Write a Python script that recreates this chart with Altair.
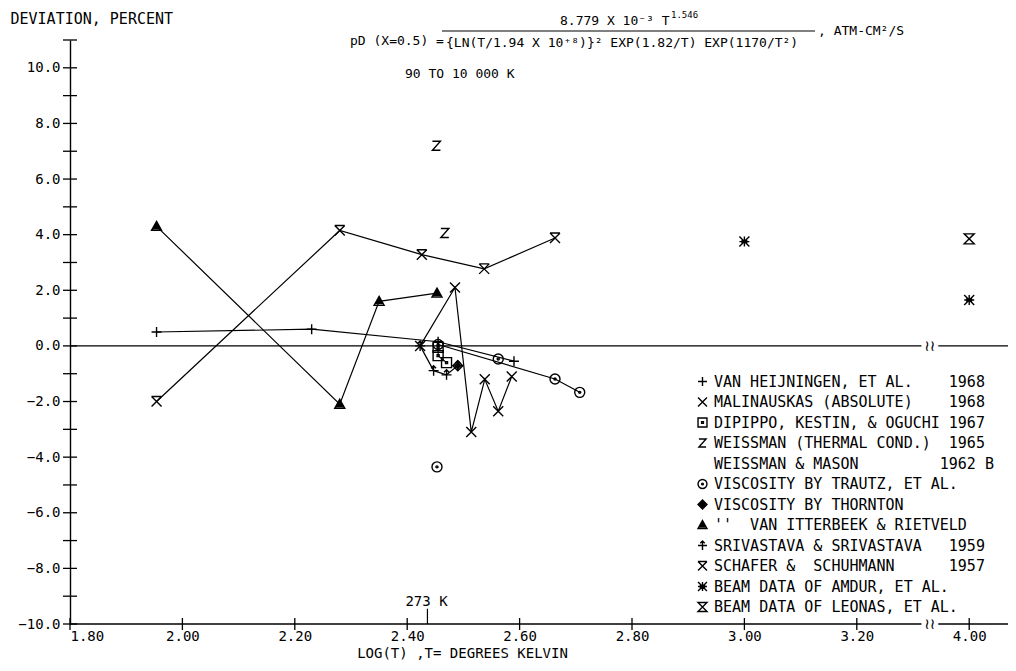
import altair as alt
import pandas as pd

FONT = "DejaVu Sans Mono"

# ---------------- data: x = log10(T), y = deviation in percent ----------------
VH_X = [1.954, 2.23, 2.455, 2.59]
VH_Y = [0.5, 0.6, 0.15, -0.55]
MAL_X = [2.423, 2.485, 2.514, 2.538, 2.562, 2.586]
MAL_Y = [0.0, 2.1, -3.1, -1.2, -2.35, -1.1]
DIP_X = [2.455, 2.455, 2.47]
DIP_Y = [-0.05, -0.35, -0.6]
WEI_X = [2.452, 2.467]
WEI_Y = [7.2, 4.06]
TRA_X = [2.455, 2.663, 2.707]
TRA_Y = [0.05, -1.19, -1.67]
TRA_ISO_X = [2.562, 2.453]
TRA_ISO_Y = [-0.47, -4.35]
THO_X = [2.49]
THO_Y = [-0.71]
VIT_X = [1.954, 2.28, 2.35, 2.453]
VIT_Y = [4.3, -2.1, 1.6, 1.9]
SRI_X = [2.423, 2.447, 2.47, 2.49]
SRI_Y = [0.0, -0.89, -1.04, -0.71]
SCH_X = [1.954, 2.28, 2.426, 2.537, 2.663]
SCH_Y = [-2.0, 4.15, 3.28, 2.77, 3.88]
AMD_X = [3.0, 4.0]
AMD_Y = [3.75, 1.65]
LEO_X = [4.0]
LEO_Y = [3.85]

LEGEND_NAMES = [
    "VAN HEIJNINGEN, ET AL.",
    "MALINAUSKAS (ABSOLUTE)",
    "DIPIPPO, KESTIN, & OGUCHI",
    "WEISSMAN (THERMAL COND.)",
    " WEISSMAN & MASON",
    "  VISCOSITY BY TRAUTZ, ET AL.",
    "  VISCOSITY BY THORNTON",
    "  ''  VAN ITTERBEEK & RIETVELD",
    "SRIVASTAVA & SRIVASTAVA",
    "SCHAFER &  SCHUHMANN",
    "BEAM DATA OF AMDUR, ET AL.",
    "BEAM DATA OF LEONAS, ET AL.",
]
LEGEND_YEARS = ["1968", "1968", "1967", "1965", "1962 B", "", "", "", "1959", "1957", "", ""]

# marker glyphs (unit-square SVG paths); "filled" ones are drawn as nested outlines
SYMBOLS = [
    "M-1,0L1,0M0,-1L0,1",
    "M-1,-1L1,1M-1,1L1,-1",
    "M-1,-1H1V1H-1Z M-0.2,-0.2H0.2V0.2H-0.2Z",
    "M-0.8,-0.9H0.8L-0.8,0.9H0.8",
    "M0,0",
    "M1,0A1,1 0 1,1 -1,0A1,1 0 1,1 1,0Z M0.2,0A0.2,0.2 0 1,1 -0.2,0A0.2,0.2 0 1,1 0.2,0Z",
    "M0,-1L1,0L0,1L-1,0Z M0,-0.55L0.55,0L0,0.55L-0.55,0Z M0,-0.15L0.15,0L0,0.15L-0.15,0Z",
    "M0,-1L1,0.8H-1Z M0,-0.45L0.55,0.45H-0.55Z M0,0.05L0.2,0.3H-0.2Z",
    "M-1,0L1,0M0,-1L0,1M-0.5,-0.5L0,-1L0.5,-0.5",
    "M-1,-1L1,1M-1,1L1,-1M-1,-1H1",
    "M-1,-1L1,1M-1,1L1,-1M-1,0H1M0,-1V1M-0.6,-0.2H0.6M-0.6,0.2H0.6",
    "M-1,-1H1L-1,1H1Z",
]

X_TICKS = [1.8, 2.0, 2.2, 2.4, 2.6, 2.8, 3.0, 3.2, 3.4]
Y_LABELS = [-10, -8, -6, -4, -2, 0, 2, 4, 6, 8, 10]
Y_TICKS = list(range(-10, 12))
BREAK_AT = [3.33]
T273 = [2.436]

NBSP = "\u00a0"
LABELS = [(n.ljust(26) + y if y else n).replace(" ", NBSP) for n, y in zip(LEGEND_NAMES, LEGEND_YEARS)]


def xplot(v):
    # axis break: 4.00 is drawn where 3.40 would be
    return v - 0.6 if v > 3.5 else v


POINT_SETS = [
    (0, VH_X, VH_Y), (1, MAL_X, MAL_Y), (2, DIP_X, DIP_Y), (3, WEI_X, WEI_Y),
    (5, TRA_X, TRA_Y), (5, TRA_ISO_X, TRA_ISO_Y), (6, THO_X, THO_Y), (7, VIT_X, VIT_Y),
    (8, SRI_X, SRI_Y), (9, SCH_X, SCH_Y), (10, AMD_X, AMD_Y), (11, LEO_X, LEO_Y),
]
LINE_SETS = [
    (0, VH_X, VH_Y), (1, MAL_X, MAL_Y), (2, DIP_X, DIP_Y), (5, TRA_X, TRA_Y),
    (7, VIT_X, VIT_Y), (8, SRI_X, SRI_Y), (9, SCH_X, SCH_Y),
]

pts = pd.DataFrame([
    {"series": LABELS[k], "x": xplot(a), "y": b}
    for k, xs, ys in POINT_SETS for a, b in zip(xs, ys)
])
lines = pd.DataFrame([
    {"grp": g, "i": i, "x": xplot(a), "y": b}
    for g, (k, xs, ys) in enumerate(LINE_SETS) for i, (a, b) in enumerate(zip(xs, ys))
])

# ---------------- layout ----------------
W, H = 938, 584
PAD_L, PAD_T, PAD_B = 62, 32, 38
XMAX = 1.8 + W / 562.0
xs = alt.Scale(domain=[1.8, XMAX], nice=False, zero=False)
ys = alt.Scale(domain=[-10, 11], nice=False, zero=False)

x_axis = alt.Axis(
    values=X_TICKS, ticks=False, domain=False, grid=False,
    labelExpr="datum.value > 3.3 ? '4.00' : format(datum.value, '.2f')",
    labelFont=FONT, labelFontSize=14, labelPadding=5, labelColor="black",
    title="LOG(T) ,T= DEGREES KELVIN", titleFont=FONT, titleFontSize=14,
    titleFontWeight="normal", titleColor="black", titleX=392, titleY=36,
    titleAlign="center", titleBaseline="bottom",
)
y_axis = alt.Axis(
    values=Y_LABELS, format=".1f", ticks=False, grid=False, domain=True,
    domainColor="black", domainWidth=1.4,
    labelFont=FONT, labelFontSize=14, labelPadding=10, labelColor="black",
    title="DEVIATION, PERCENT", titleAngle=0, titleAlign="left", titleBaseline="middle",
    titleX=-60, titleY=-22, titleFont=FONT, titleFontSize=15, titleFontWeight="normal",
    titleColor="black",
)


def X(field):
    return alt.X(field, scale=xs, axis=x_axis)


def Y(field):
    return alt.Y(field, scale=ys, axis=y_axis)


def YD(val):
    return alt.YDatum(val, scale=ys, axis=y_axis)


base_lines = alt.Chart(lines).mark_line(color="black", strokeWidth=1.2).encode(
    x=X("x:Q"), y=Y("y:Q"), detail="grp:N", order="i:Q",
)

legend = alt.Legend(
    orient="none", legendX=625, legendY=334, title=None,
    labelFont=FONT, labelFontSize=15, labelColor="black", labelLimit=500,
    labelOffset=4, rowPadding=4.5, symbolSize=80, symbolStrokeColor="black",
    symbolFillColor="transparent", symbolStrokeWidth=1.4, padding=0,
)
points = alt.Chart(pts).mark_point(filled=False, size=100, strokeWidth=1.4, opacity=1, color="black").encode(
    x=X("x:Q"), y=Y("y:Q"),
    shape=alt.Shape("series:N", scale=alt.Scale(domain=LABELS, range=SYMBOLS), legend=legend, sort=LABELS),
)

seg = pd.DataFrame({"a": [1.8, BREAK_AT[0] + 0.015], "b": [BREAK_AT[0] - 0.015, XMAX]})
zero_line = alt.Chart(seg).mark_rule(color="black", strokeWidth=1.3).encode(
    x=X("a:Q"), x2="b:Q", y=YD(0))
bottom_line = alt.Chart(seg).mark_rule(color="black", strokeWidth=1.3).encode(
    x=X("a:Q"), x2="b:Q", y=YD(-10))

brk = pd.DataFrame({"b": BREAK_AT})
break_zero = alt.Chart(brk).mark_text(text="\u2240\u2240", font="DejaVu Sans", fontSize=15, color="black").encode(
    x=X("b:Q"), y=YD(0))
break_bot = alt.Chart(brk).mark_text(text="\u2240\u2240", font="DejaVu Sans", fontSize=15, color="black").encode(
    x=X("b:Q"), y=YD(-10))

yt = pd.DataFrame({"v": Y_TICKS})
y_ticks = alt.Chart(yt).mark_rule(color="black", strokeWidth=1.3).encode(
    y=Y("v:Q"), x=alt.value(-7), x2=alt.value(7))
xt = pd.DataFrame({"v": X_TICKS})
x_ticks = alt.Chart(xt).mark_rule(color="black", strokeWidth=1.3).encode(
    x=X("v:Q"), y=alt.value(H - 6), y2=alt.value(H + 6))

t273 = pd.DataFrame({"v": T273, "t": ["273 K"]})
tick273 = alt.Chart(t273).mark_rule(color="black", strokeWidth=1.2).encode(
    x=X("v:Q"), y=YD(-10), y2=alt.datum(-9.45))
text273 = alt.Chart(t273).mark_text(font=FONT, fontSize=14, align="left", dx=-22, baseline="bottom", color="black").encode(
    x=X("v:Q"), y=YD(-9.45), text="t:N")


def label(txt, px, py, size=14, align="left"):
    return alt.Chart(pd.DataFrame({"t": [txt]})).mark_text(
        font=FONT, fontSize=size, align=align, baseline="middle", color="black"
    ).encode(text="t:N", x=alt.value(px - PAD_L - 8), y=alt.value(py - PAD_T - 8))


formula = [
    label("pD (X=0.5) =", 350, 41, 13),
    label("8.779 X 10\u207b\u00b3 T", 560, 21, 13),
    label("1.546", 671, 15, 9),
    label("{LN(T/1.94 X 10\u207a\u2078)}\u00b2 EXP(1.82/T) EXP(1170/T\u00b2)", 446, 43, 13),
    label(", ATM-CM\u00b2/S", 818, 31, 13),
    label("90 TO 10 000 K", 405, 74, 13),
]
frac_bar = alt.Chart(pd.DataFrame({"t": [0]})).mark_rule(color="black", strokeWidth=1.1).encode(
    x=alt.value(442 - PAD_L - 8), x2=alt.value(815 - PAD_L - 8), y=alt.value(31 - PAD_T - 8))

chart = alt.layer(
    base_lines, zero_line, bottom_line, break_zero, break_bot, y_ticks, x_ticks,
    tick273, text273, points, frac_bar, *formula,
).properties(
    width=W, height=H,
    autosize=alt.AutoSizeParams(type="none"),
    padding={"left": PAD_L, "top": PAD_T, "right": 0, "bottom": PAD_B},
    background="white",
).configure_view(stroke=None)

chart.save("out.html", embed_options={"renderer": "svg", "actions": False})
